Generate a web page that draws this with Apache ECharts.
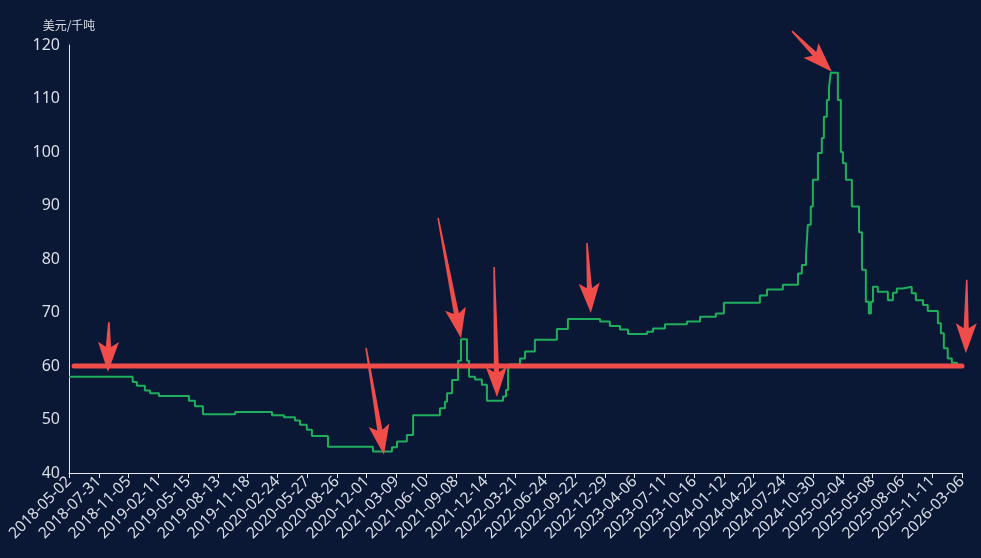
<!DOCTYPE html>
<html>
<head>
<meta charset="utf-8">
<script src="https://cdn.jsdelivr.net/npm/echarts@6/dist/echarts.min.js"></script>
<style>
html,body{margin:0;padding:0;background:#0a1836;}
#chart{width:981px;height:558px;}
</style>
</head>
<body>
<div id="chart"></div>
<script>
// Tick labels along the x axis (one per axis unit)
const dateLabels = ['2018-05-02','2018-07-31','2018-11-05','2019-02-11','2019-05-15','2019-08-13','2019-11-18','2020-02-24','2020-05-27','2020-08-26','2020-12-01','2021-03-09','2021-06-10','2021-09-08','2021-12-14','2022-03-21','2022-06-24','2022-09-22','2022-12-29','2023-04-06','2023-07-11','2023-10-16','2024-01-12','2024-04-22','2024-07-24','2024-10-30','2025-02-04','2025-05-08','2025-08-06','2025-11-11','2026-03-06'];

// Price change points: position (in label units) where each level starts, and level value
const pricePos = [0,2.14,2.28,2.55,2.72,3.02,4.03,4.23,4.50,5.58,6.82,7.22,7.59,7.76,7.99,8.16,8.70,10.21,10.85,11.02,11.35,11.56,12.46,12.63,12.70,12.87,13.07,13.17,13.37,13.44,13.64,13.87,14.04,14.58,14.68,14.75,14.81,15.15,15.32,15.65,16.39,16.76,17.84,18.17,18.51,18.78,19.42,19.62,20.02,20.76,21.20,21.73,22.00,23.21,23.45,23.98,24.49,24.62,24.76,24.82,24.92,24.99,25.16,25.29,25.36,25.46,25.53,25.59,25.83,25.93,26.00,26.10,26.30,26.54,26.64,26.77,26.87,26.94,27.01,27.17,27.51,27.68,27.81,28.01,28.31,28.45,28.69,28.85,29.19,29.29,29.39,29.52,29.66,29.83,30.00];
const priceVal = [58,57,56.3,55.4,54.9,54.4,53.5,52.5,51.0,51.4,50.8,50.4,49.8,49.0,48.1,46.9,44.9,44.0,44.8,45.9,47.1,50.8,52.1,53.3,54.9,57.4,61,65,61,58,57.5,56.5,53.5,54.3,55.5,59.3,60.3,61.4,62.7,64.9,66.9,68.8,68.3,67.5,66.8,66.0,66.4,67.0,67.8,68.3,69.2,69.8,71.8,73.2,74.3,75.2,77.3,78.9,80.7,86.4,89.8,94.8,99.8,102.6,106.6,109.7,112,114.8,109.7,100,97.9,94.8,89.8,85,78,72,69.8,72,74.8,73.9,72.3,73.7,74.5,74.8,73.6,72.3,71.4,70.3,68,66.1,63.3,61.4,60.6,60.0,60.0];

// Reference level
const refLevel = 60;
const refStart = 0.17;
const refEnd = 30;

// Annotation arrows: tail x, tail y, tip x, tip y (data units)
const arrowTailX = [1.34, 9.98, 12.40, 14.28, 17.40, 24.29, 30.16];
const arrowTailY = [68.2, 63.4, 87.7, 78.5, 83.0, 122.6, 76.1];
const arrowTipX  = [1.31, 10.58, 13.17, 14.38, 17.53, 25.63, 30.13];
const arrowTipY  = [58.9, 43.4, 65.2, 54.2, 69.9, 115.0, 62.4];

const priceData = pricePos.map((p, i) => [p, priceVal[i]]);
const arrowData = arrowTailX.map((x, i) => [x, arrowTailY[i], arrowTipX[i], arrowTipY[i]]);

const RED = '#ef4c4a';
const GREEN = '#1fae5b';
const TXT = '#dadee6';

const chart = echarts.init(document.getElementById('chart'), null, {renderer: 'canvas'});

function renderArrow(params, api) {
  const a = api.coord([api.value(0), api.value(1)]);
  const b = api.coord([api.value(2), api.value(3)]);
  const dx = b[0] - a[0], dy = b[1] - a[1];
  const len = Math.sqrt(dx*dx + dy*dy);
  const ux = dx/len, uy = dy/len;
  const nx = -uy, ny = ux;
  const headLen = 30, headHalf = 10.5, notch = 5;
  const bx = b[0] - ux*headLen, by = b[1] - uy*headLen;
  const tailW = 0.8, neckW = 2.6;
  const pts = [
    [a[0] + nx*tailW, a[1] + ny*tailW],
    [bx + ux*notch + nx*neckW, by + uy*notch + ny*neckW],
    [bx + nx*headHalf, by + ny*headHalf],
    [b[0], b[1]],
    [bx - nx*headHalf, by - ny*headHalf],
    [bx + ux*notch - nx*neckW, by + uy*notch - ny*neckW],
    [a[0] - nx*tailW, a[1] - ny*tailW]
  ];
  return {type: 'polygon', shape: {points: pts}, style: {fill: RED}};
}

chart.setOption({
  backgroundColor: '#0a1836',
  animation: false,
  textStyle: {fontFamily: "'Noto Sans', 'Noto Sans CJK SC', sans-serif"},
  grid: {left: 69, right: 19, top: 45, bottom: 85, containLabel: false},
  xAxis: {
    type: 'value',
    min: 0, max: 30, interval: 1,
    axisLine: {show: true, lineStyle: {color: '#e6e8ee', width: 1}},
    axisTick: {show: true, length: 5, lineStyle: {color: '#e6e8ee'}},
    splitLine: {show: false},
    axisLabel: {
      color: TXT, fontSize: 15.5, rotate: 45, margin: 6,
      showMinLabel: true, showMaxLabel: true,
      formatter: v => dateLabels[Math.round(v)] || ''
    }
  },
  yAxis: {
    type: 'value',
    min: 40, max: 120, interval: 10,
    name: '美元/千吨',
    nameLocation: 'end',
    nameGap: 14,
    nameTextStyle: {color: TXT, fontSize: 12, fontFamily: "'Noto Sans CJK SC', sans-serif"},
    axisLine: {show: true, lineStyle: {color: '#e6e8ee', width: 1}},
    axisTick: {show: false},
    splitLine: {show: false},
    axisLabel: {color: TXT, fontSize: 16, margin: 9}
  },
  series: [
    {
      type: 'line',
      data: priceData,
      step: 'end',
      symbol: 'none',
      lineStyle: {color: GREEN, width: 2},
      z: 2
    },
    {
      type: 'line',
      data: [[refStart, refLevel], [refEnd, refLevel]],
      symbol: 'none',
      lineStyle: {color: RED, width: 5, cap: 'round'},
      z: 3
    },
    {
      type: 'custom',
      data: arrowData,
      renderItem: renderArrow,
      encode: {x: [0, 2], y: [1, 3]},
      clip: false,
      z: 4
    }
  ]
});
</script>
</body>
</html>
